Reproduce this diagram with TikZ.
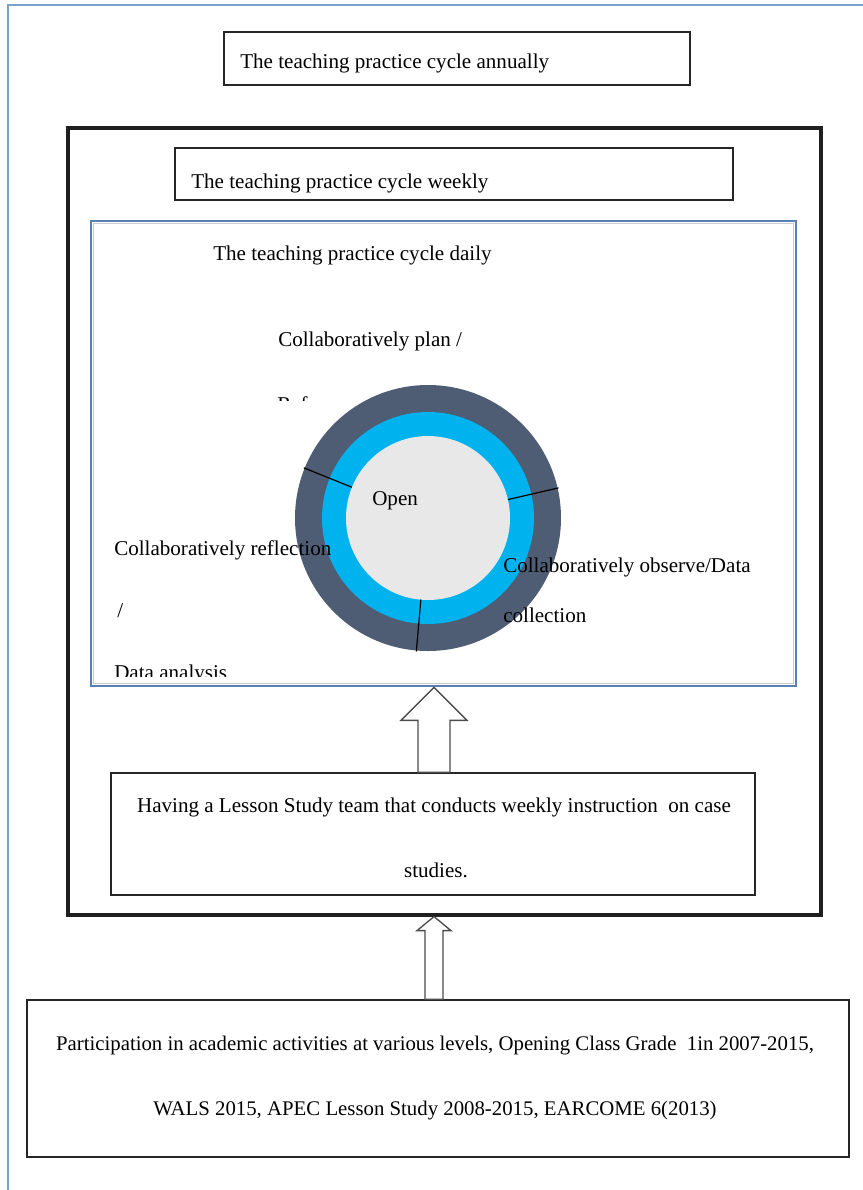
\documentclass[tikz,border=0pt]{standalone}
\usepackage{fontspec}
\setmainfont{Liberation Serif}
\usetikzlibrary{fit,calc}
\definecolor{pageline}{RGB}{122,160,204}
\definecolor{dailyline}{RGB}{88,128,180}
\definecolor{dailyshade}{RGB}{205,205,205}
\definecolor{ringdark}{RGB}{78,93,116}
\definecolor{ringcyan}{RGB}{0,178,238}
\definecolor{ringcore}{RGB}{232,232,232}
\begin{document}
\begin{tikzpicture}[x=0.75pt,y=-0.75pt,
  box/.style={draw=black!85, line width=1.1pt, inner sep=0pt},
  frame/.style={draw=black!88, line width=2.4pt, inner sep=0pt},
  dailybox/.style={draw=dailyline, line width=2pt, inner sep=0pt},
  txt/.style={anchor=base west, inner sep=0pt, font=\fontsize{15.8}{18}\selectfont},
  ctxt/.style={anchor=base, inner sep=0pt, font=\fontsize{15.8}{18}\selectfont},
  blockarrow/.style={draw=black!70, line width=1pt, fill=white, line join=miter},
  divider/.style={draw=black, line width=0.9pt}
]
\useasboundingbox (0,0) rectangle (863,1190);

% page rule along the top and left edge
\draw[pageline, line width=1.4pt] (8,1190) -- (8,5) -- (863,5);

% boxes
\node[box, fit={(224,32) (690,85)}] (annual) {};
\node[frame, fit={(68,128) (821,915)}] (weekframe) {};
\node[box, fit={(175,148) (733,200)}] (weekly) {};
\draw[dailyshade, line width=0.9pt] (93.5,223.5) rectangle (793.5,683.5);
\node[dailybox, fit={(91,221) (796,686)}] (daily) {};
\node[box, fit={(111,773) (755,895)}] (hav) {};
\node[box, fit={(27,1000) (849,1157)}] (part) {};

% headings
\node[txt] (tannual) at (240,68) {The teaching practice cycle annually};
\node[txt] (tweekly) at (191,188) {The teaching practice cycle weekly};
\node[txt] (tdaily) at (213,260) {The teaching practice cycle daily};

% cycle rings
\coordinate (hub) at (428,518);
\fill[ringdark] (hub) circle[radius=133];
\fill[ringcyan] (hub) circle[radius=106];
\fill[ringcore] (hub) circle[radius=82];
\foreach \a in {-158,-13,95}
  \draw[divider] ($(hub)+(\a:82)$) -- ($(hub)+(\a:134)$);

% stage labels
\node[txt] (plan) at (278,346) {Collaboratively plan /};
\begin{scope}
  \clip (270,390) rectangle (340,400.5);
  \node[txt] (ref) at (277,411) {Ref};
\end{scope}
\node[txt] (open) at (372,505) {Open};
\node[txt] (reflect) at (114,555) {Collaboratively reflection};
\node[txt] (slash) at (117,617) {/};
\begin{scope}
  \clip (100,640) rectangle (320,676);
  \node[txt] (analysis) at (114,679) {Data analysis};
\end{scope}
\node[txt] (observe) at (503,572) {Collaboratively observe/Data};
\node[txt] (collect) at (503,622) {collection};

% lower boxes text
\node[ctxt] (hav1) at (434,812) {Having a Lesson Study team that conducts weekly instruction\ \ on case};
\node[ctxt] (hav2) at (436,877) {studies.};
\node[ctxt, font=\fontsize{15.6}{18}\selectfont] (part1) at (435,1050) {Participation in academic activities at various levels, Opening Class Grade\ \ 1in 2007-2015,};
\node[ctxt, font=\fontsize{15.6}{18}\selectfont] (part2) at (435,1115) {WALS 2015, APEC Lesson Study 2008-2015,\ EARCOME 6(2013)};

% block arrows
\coordinate (ax) at (434,0);
\draw[blockarrow]
  ($(ax |- hav.north)+(-16,0)$) -- ($(ax |- daily.south)+(-16,33)$)
  -- ($(ax |- daily.south)+(-33,33)$) -- (ax |- daily.south)
  -- ($(ax |- daily.south)+(33,33)$) -- ($(ax |- daily.south)+(16,33)$)
  -- ($(ax |- hav.north)+(16,0)$) -- cycle;
\draw[blockarrow]
  ($(ax |- part.north)+(-9,0)$) -- ($(ax |- weekframe.south)+(-9,14)$)
  -- ($(ax |- weekframe.south)+(-17,14)$) -- (ax |- weekframe.south)
  -- ($(ax |- weekframe.south)+(17,14)$) -- ($(ax |- weekframe.south)+(9,14)$)
  -- ($(ax |- part.north)+(9,0)$) -- cycle;
\end{tikzpicture}
\end{document}
